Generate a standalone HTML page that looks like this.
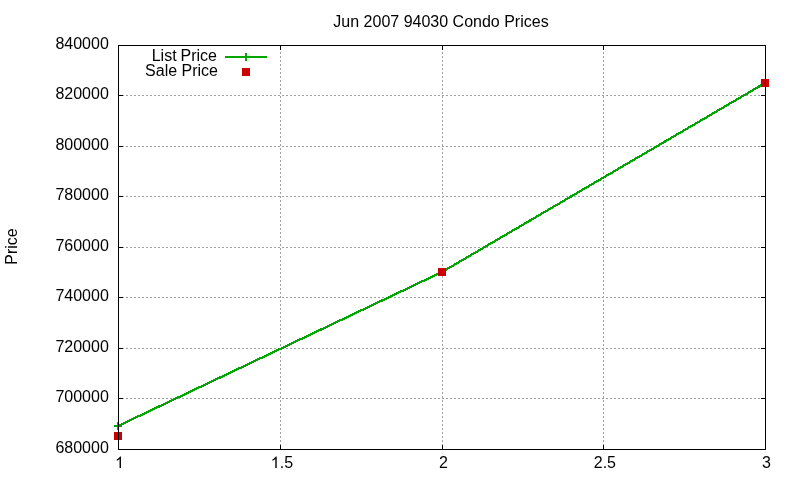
<!DOCTYPE html>
<html><head><meta charset="utf-8"><title>Jun 2007 94030 Condo Prices</title>
<style>
html,body{margin:0;padding:0;background:#fff;}
body{width:800px;height:480px;overflow:hidden;}
svg{display:block;will-change:transform;}
text{font-family:"Liberation Sans",sans-serif;font-size:16px;fill:#000;}
</style></head><body>
<svg width="800" height="480" viewBox="0 0 800 480">
<rect x="0" y="0" width="800" height="480" fill="#fff"/>

<g shape-rendering="crispEdges" stroke="#a0a0a0" stroke-width="1" stroke-dasharray="2 2" fill="none">
<line x1="118" y1="398.5" x2="765" y2="398.5"/>
<line x1="118" y1="348.5" x2="765" y2="348.5"/>
<line x1="118" y1="297.5" x2="765" y2="297.5"/>
<line x1="118" y1="247.5" x2="765" y2="247.5"/>
<line x1="118" y1="196.5" x2="765" y2="196.5"/>
<line x1="118" y1="146.5" x2="765" y2="146.5"/>
<line x1="118" y1="95.5" x2="765" y2="95.5"/>
<line x1="280.5" y1="450" x2="280.5" y2="45"/>
<line x1="442.5" y1="450" x2="442.5" y2="45"/>
<line x1="603.5" y1="450" x2="603.5" y2="45"/>
</g>
<g shape-rendering="crispEdges" stroke="#000" stroke-width="1" fill="none">
<line x1="118" y1="449.5" x2="123" y2="449.5"/>
<line x1="761" y1="449.5" x2="766" y2="449.5"/>
<line x1="118" y1="398.5" x2="123" y2="398.5"/>
<line x1="761" y1="398.5" x2="766" y2="398.5"/>
<line x1="118" y1="348.5" x2="123" y2="348.5"/>
<line x1="761" y1="348.5" x2="766" y2="348.5"/>
<line x1="118" y1="297.5" x2="123" y2="297.5"/>
<line x1="761" y1="297.5" x2="766" y2="297.5"/>
<line x1="118" y1="247.5" x2="123" y2="247.5"/>
<line x1="761" y1="247.5" x2="766" y2="247.5"/>
<line x1="118" y1="196.5" x2="123" y2="196.5"/>
<line x1="761" y1="196.5" x2="766" y2="196.5"/>
<line x1="118" y1="146.5" x2="123" y2="146.5"/>
<line x1="761" y1="146.5" x2="766" y2="146.5"/>
<line x1="118" y1="95.5" x2="123" y2="95.5"/>
<line x1="761" y1="95.5" x2="766" y2="95.5"/>
<line x1="118" y1="45.5" x2="123" y2="45.5"/>
<line x1="761" y1="45.5" x2="766" y2="45.5"/>
<line x1="118.5" y1="445" x2="118.5" y2="450"/>
<line x1="118.5" y1="45" x2="118.5" y2="50"/>
<line x1="280.5" y1="445" x2="280.5" y2="450"/>
<line x1="280.5" y1="45" x2="280.5" y2="50"/>
<line x1="442.5" y1="445" x2="442.5" y2="450"/>
<line x1="442.5" y1="45" x2="442.5" y2="50"/>
<line x1="603.5" y1="445" x2="603.5" y2="450"/>
<line x1="603.5" y1="45" x2="603.5" y2="50"/>
<line x1="765.5" y1="445" x2="765.5" y2="450"/>
<line x1="765.5" y1="45" x2="765.5" y2="50"/>
</g>
<g shape-rendering="crispEdges" stroke="#00a600" stroke-width="2" fill="none">
<polyline points="118,426 442,272 765,83" stroke-width="2.25"/>
<line x1="114" y1="426" x2="122" y2="426"/><line x1="118" y1="422" x2="118" y2="430"/>
<line x1="438" y1="272" x2="446" y2="272"/><line x1="442" y1="268" x2="442" y2="276"/>
<line x1="761" y1="83" x2="769" y2="83"/><line x1="765" y1="79" x2="765" y2="87"/>
<line x1="225" y1="57" x2="267" y2="57"/><line x1="246" y1="53" x2="246" y2="61"/>
</g>
<g shape-rendering="crispEdges" fill="#cc0000">
<rect x="114" y="432" width="8" height="8"/>
<rect x="438" y="268" width="8" height="8"/>
<rect x="761" y="79" width="8" height="8"/>
<rect x="242" y="68" width="8" height="8"/>
</g>
<rect x="118.5" y="45.5" width="647" height="404" fill="none" stroke="#000" stroke-width="1" shape-rendering="crispEdges"/>
<text x="441" y="27" text-anchor="middle">Jun 2007 94030 Condo Prices</text>
<text transform="translate(17,246.5) rotate(-90)" text-anchor="middle">Price</text>
<text x="108.8" y="453" text-anchor="end">680000</text>
<text x="108.8" y="402" text-anchor="end">700000</text>
<text x="108.8" y="352" text-anchor="end">720000</text>
<text x="108.8" y="301" text-anchor="end">740000</text>
<text x="108.8" y="251" text-anchor="end">760000</text>
<text x="108.8" y="200" text-anchor="end">780000</text>
<text x="108.8" y="150" text-anchor="end">800000</text>
<text x="108.8" y="99" text-anchor="end">820000</text>
<text x="108.8" y="49" text-anchor="end">840000</text>
<path d="M763 0H583V1147Q518 1085 412.5 1023T223 930V1104Q373 1174.5 485 1274.5T644 1469H763Z" transform="translate(115.0,468) scale(0.0078125,-0.0078125)" fill="#000"/>
<path d="M763 0H583V1147Q518 1085 412.5 1023T223 930V1104Q373 1174.5 485 1274.5T644 1469H763Z" transform="translate(270.74,468) scale(0.0078125,-0.0078125)" fill="#000"/>
<text x="279.7" y="468">.5</text>
<text x="443.4" y="468" text-anchor="middle">2</text>
<text x="604.9" y="468" text-anchor="middle">2.5</text>
<text x="766.5" y="468" text-anchor="middle">3</text>
<text x="176.6" y="61" text-anchor="end">List</text><text x="217" y="61" text-anchor="end">Price</text>
<text x="218" y="76" text-anchor="end">Sale Price</text>
</svg></body></html>
